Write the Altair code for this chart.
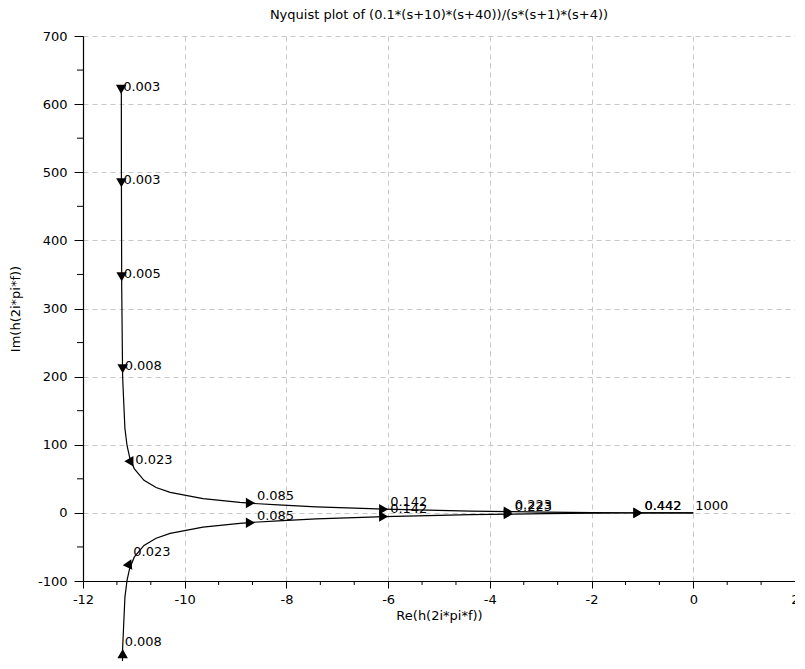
import altair as alt
import pandas as pd

# ---- curve (upper branch: negative frequencies) ----
upper_re = [-11.246, -11.245, -11.239, -11.221, -11.176, -11.134, -11.084, -10.993,
            -10.801, -10.563, -10.286, -9.641, -8.917, -8.660, -8.163, -7.416,
            -6.362, -6.086, -5.426, -4.382, -3.552, -2.899, -1.980, -1.290,
            -1.040, -0.628, -0.274, -0.054, 0.0]
upper_im = [624.7, 499.8, 333.0, 199.4, 124.1, 98.9, 82.0, 65.0,
            47.8, 37.3, 30.2, 21.0, 15.4, 13.9, 11.6, 8.9,
            6.1, 5.5, 4.3, 2.7, 1.75, 1.15, 0.50, 0.17,
            0.08, -0.01, -0.03, -0.003, 0.0]
# lower branch: positive frequencies
lower_re = [-11.246, -11.245, -11.239, -11.221, -11.176, -11.134, -11.084, -10.993,
            -10.801, -10.563, -10.286, -9.641, -8.917, -8.660, -8.163, -7.416,
            -6.362, -6.086, -5.426, -4.382, -3.552, -2.899, -1.980, -1.290,
            -1.040, -0.628, -0.274, -0.054, 0.0]
lower_im = [-624.7, -499.8, -333.0, -199.4, -124.1, -98.9, -82.0, -65.0,
            -47.8, -37.3, -30.2, -21.0, -15.4, -13.9, -11.6, -8.9,
            -6.1, -5.5, -4.3, -2.7, -1.75, -1.15, -0.50, -0.17,
            -0.08, 0.01, 0.03, 0.003, 0.0]

# ---- frequency markers (arrow tips + labels) ----
freq_labels = ["0.003", "0.003", "0.005", "0.008", "0.023", "0.085", "0.142", "0.223", "0.442"]
upper_arrow_re = [-11.25, -11.245, -11.24, -11.22, -11.01, -8.62, -6.00, -3.55, -1.00]
upper_arrow_im = [615, 478, 340, 205, 68, 14.5, 5.2, 1.7, 0.1]
upper_arrow_dir = [180, 180, 180, 180, 150, 90, 90, 90, 90]
lower_arrow_re = [-11.25, -11.245, -11.24, -11.22, -11.05, -8.62, -6.00, -3.55, -1.00]
lower_arrow_im = [-615, -478, -340, -200, -68, -14.5, -5.2, -1.7, -0.1]
lower_arrow_dir = [0, 0, 0, 0, 25, 90, 90, 90, 90]
end_label = "1000"
end_re = 0.0
end_im = 0.0

title_text = "Nyquist plot of (0.1*(s+10)*(s+40))/(s*(s+1)*(s+4))"
x_title = "Re(h(2i*pi*f))"
y_title = "Im(h(2i*pi*f))"
x_major_ticks = [-12, -10, -8, -6, -4, -2, 0, 2]
x_minor_ticks = [-11.3333, -10.6667, -9.3333, -8.6667, -7.3333, -6.6667, -5.3333, -4.6667,
                 -3.3333, -2.6667, -1.3333, -0.6667, 0.6667, 1.3333]
y_major_ticks = [-100, 0, 100, 200, 300, 400, 500, 600, 700]
y_minor_ticks = [-50, 50, 150, 250, 350, 450, 550, 650]
x_min, x_max = -12, 2
y_min, y_max = -100, 700

FONT = "DejaVu Sans"

curve = pd.DataFrame({
    "re": upper_re + lower_re,
    "im": upper_im + lower_im,
    "branch": ["upper"] * len(upper_re) + ["lower"] * len(lower_re),
    "idx": list(range(len(upper_re))) + list(range(len(lower_re))),
})
arrows = pd.DataFrame({
    "re": upper_arrow_re + lower_arrow_re,
    "im": upper_arrow_im + lower_arrow_im,
    "ang": upper_arrow_dir + lower_arrow_dir,
})
labels = pd.DataFrame({
    "re": upper_arrow_re + lower_arrow_re + [end_re],
    "im": upper_arrow_im + lower_arrow_im + [end_im],
    "lab": freq_labels + freq_labels + [end_label],
})
xminor = pd.DataFrame({"re": x_minor_ticks, "im": [y_min] * len(x_minor_ticks)})
yminor = pd.DataFrame({"re": [x_min] * len(y_minor_ticks), "im": y_minor_ticks})

x_enc = alt.X(
    "re:Q",
    scale=alt.Scale(domain=[x_min, x_max], nice=False, zero=False),
    axis=alt.Axis(
        title=x_title, values=x_major_ticks, labelExpr="toString(datum.value)", tickSize=7,
        labelOverlap=False, labelFlush=False, labelPadding=5, titlePadding=3,
    ),
)
y_enc = alt.Y(
    "im:Q",
    scale=alt.Scale(domain=[y_min, y_max], nice=False, zero=False),
    axis=alt.Axis(
        title=y_title, values=y_major_ticks, labelExpr="toString(datum.value)", tickSize=9,
        labelOverlap=False, labelFlush=False, labelPadding=7, titlePadding=15,
    ),
)

line = alt.Chart(curve).mark_line(color="black", strokeWidth=1.2, clip=False).encode(
    x=x_enc, y=y_enc, detail="branch:N", order="idx:Q"
)

# arrowheads: tip sits on the marker point, so shift each direction back along itself
arrow_layers = []
for ang, xo, yo in [(180, 0, -4.5), (0, 0, 4.5), (90, -4.5, 0), (150, -2.2, -3.9), (25, -1.9, 4.1)]:
    arrow_layers.append(
        alt.Chart(arrows).transform_filter(f"datum.ang == {ang}").mark_point(
            shape="triangle-up", filled=True, size=110, color="black", opacity=1,
            clip=False, xOffset=xo, yOffset=yo
        ).encode(x=alt.X("re:Q"), y=alt.Y("im:Q"), angle=alt.Angle("ang:Q", scale=None))
    )

txt = alt.Chart(labels).mark_text(
    align="left", baseline="alphabetic", dx=2, dy=-3, font=FONT, fontSize=13,
    color="black", clip=False
).encode(x=alt.X("re:Q"), y=alt.Y("im:Q"), text="lab:N")

xmin_ticks = alt.Chart(xminor).mark_tick(
    orient="vertical", size=4, thickness=1, color="black", yOffset=2, opacity=1, clip=False
).encode(x=alt.X("re:Q"), y=alt.Y("im:Q"))
ymin_ticks = alt.Chart(yminor).mark_tick(
    orient="horizontal", size=6, thickness=1, color="black", xOffset=-3, opacity=1, clip=False
).encode(x=alt.X("re:Q"), y=alt.Y("im:Q"))

chart = (
    alt.layer(line, *arrow_layers, txt, xmin_ticks, ymin_ticks)
    .properties(
        width=712, height=545,
        title=alt.TitleParams(title_text, font=FONT, fontSize=13, fontWeight="normal",
                              anchor="middle", color="black", offset=8),
        autosize=alt.AutoSizeParams(type="none"),
        padding={"left": 75, "top": 28, "right": 0, "bottom": 80},
    )
    .configure_view(stroke=None)
    .configure_axis(
        domainColor="black", domainWidth=1.2, tickColor="black", tickWidth=1,
        gridColor="#c8c8c8", gridDash=[5, 4], gridWidth=1,
        labelColor="black", labelFont=FONT, labelFontSize=13,
        titleColor="black", titleFont=FONT, titleFontSize=13, titleFontWeight="normal",
    )
)

chart.save("out.html", embed_options={"renderer": "svg", "actions": False})
